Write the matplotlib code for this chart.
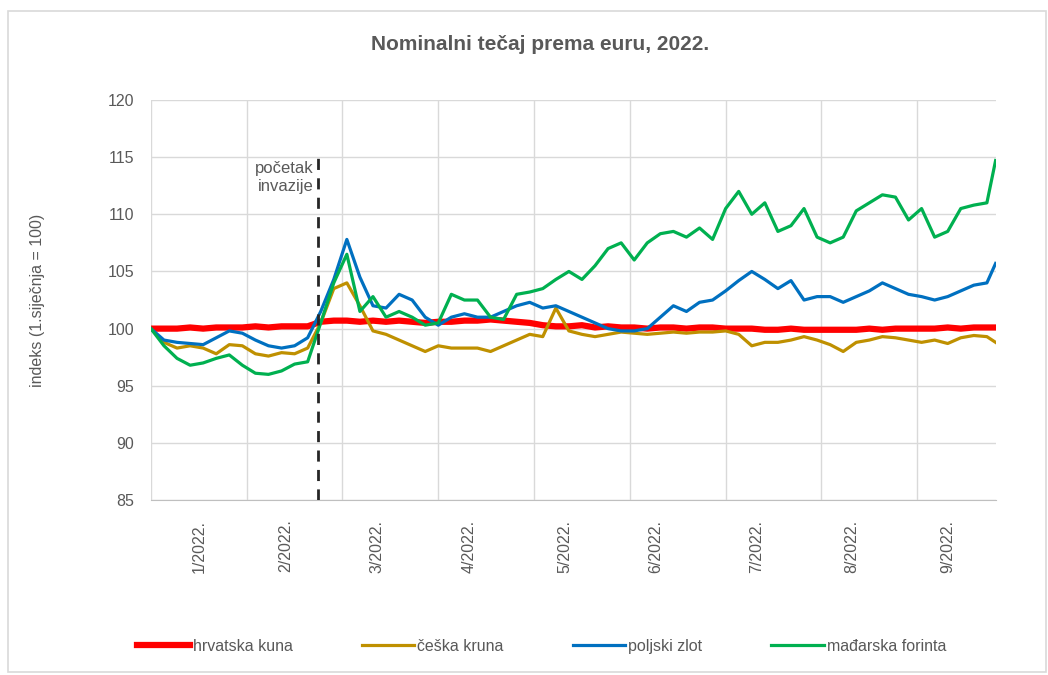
import numpy as np
import matplotlib.pyplot as plt
from matplotlib.patches import Rectangle

plt.rcParams['font.family'] = ['Liberation Sans', 'DejaVu Sans']

# business-day index (0 = 1. siječnja), values read roughly every 3rd day
idx = list(range(0, 193, 3)) + [194]

kuna = [100.0, 100.0, 100.0, 100.1, 100.0, 100.1, 100.1, 100.1, 100.2, 100.1, 100.2, 100.2, 100.2,
        100.6, 100.7, 100.7, 100.6, 100.7, 100.6, 100.7, 100.6, 100.5,
        100.6, 100.6, 100.7, 100.7, 100.8, 100.7, 100.6, 100.5, 100.3,
        100.2, 100.2, 100.3, 100.1, 100.2, 100.1, 100.1, 100.0, 100.1, 100.1, 100.0, 100.1, 100.1,
        100.0, 100.0, 100.0, 99.9, 99.9, 100.0, 99.9, 99.9, 99.9, 99.9, 99.9, 100.0, 99.9,
        100.0, 100.0, 100.0, 100.0, 100.1, 100.0, 100.1, 100.1, 100.1]

ceska = [100.0, 98.8, 98.3, 98.5, 98.3, 97.8, 98.6, 98.5, 97.8, 97.6, 97.9, 97.8, 98.3,
         100.5, 103.5, 104.0, 102.0, 99.8, 99.5, 99.0, 98.5, 98.0,
         98.5, 98.3, 98.3, 98.3, 98.0, 98.5, 99.0, 99.5, 99.3,
         101.8, 99.8, 99.5, 99.3, 99.5, 99.7, 99.6, 99.5, 99.6, 99.7, 99.6, 99.7, 99.7,
         99.8, 99.5, 98.5, 98.8, 98.8, 99.0, 99.3, 99.0, 98.6, 98.0, 98.8, 99.0, 99.3,
         99.2, 99.0, 98.8, 99.0, 98.7, 99.2, 99.4, 99.3, 98.8]

zlot = [100.0, 99.0, 98.8, 98.7, 98.6, 99.2, 99.8, 99.6, 99.0, 98.5, 98.3, 98.5, 99.2,
        101.5, 104.3, 107.8, 104.5, 102.0, 101.8, 103.0, 102.5, 101.0,
        100.3, 101.0, 101.3, 101.0, 101.0, 101.5, 102.0, 102.3, 101.8,
        102.0, 101.5, 101.0, 100.5, 100.0, 99.8, 99.8, 100.0, 101.0, 102.0, 101.5, 102.3, 102.5,
        103.3, 104.2, 105.0, 104.3, 103.5, 104.2, 102.5, 102.8, 102.8, 102.3, 102.8, 103.3, 104.0,
        103.5, 103.0, 102.8, 102.5, 102.8, 103.3, 103.8, 104.0, 105.7]

forinta = [100.0, 98.5, 97.4, 96.8, 97.0, 97.4, 97.7, 96.8, 96.1, 96.0, 96.3, 96.9, 97.1,
           100.5, 104.0, 106.5, 101.5, 102.8, 101.0, 101.5, 101.0, 100.3,
           100.5, 103.0, 102.5, 102.5, 101.0, 100.8, 103.0, 103.2, 103.5,
           104.3, 105.0, 104.3, 105.5, 107.0, 107.5, 106.0, 107.5, 108.3, 108.5, 108.0, 108.8, 107.8,
           110.5, 112.0, 110.0, 111.0, 108.5, 109.0, 110.5, 108.0, 107.5, 108.0, 110.3, 111.0, 111.7,
           111.5, 109.5, 110.5, 108.0, 108.5, 110.5, 110.8, 111.0, 114.7]

month_labels = ['1/2022.', '2/2022.', '3/2022.', '4/2022.', '5/2022.',
                '6/2022.', '7/2022.', '8/2022.', '9/2022.']
label_pos = [11, 31, 52, 73, 95, 116, 139, 161, 183]
invasion = 38.3

grey = '#595959'

fig = plt.figure(figsize=(10.48, 6.75), dpi=100)
fig.patches.append(Rectangle((0.008, 0.004), 0.99, 0.98, transform=fig.transFigure,
                             fill=False, edgecolor='#d9d9d9', linewidth=1.2))
ax = fig.add_axes([0.144, 0.259, 0.806, 0.593])

ax.plot(idx, kuna, color='#ff0000', lw=4.5, label='hrvatska kuna', zorder=3)
ax.plot(idx, ceska, color='#bf9000', lw=2.3, label='češka kruna', zorder=4)
ax.plot(idx, zlot, color='#0070c0', lw=2.3, label='poljski zlot', zorder=5)
ax.plot(idx, forinta, color='#00b050', lw=2.3, label='mađarska forinta', zorder=6)

ax.plot([invasion, invasion], [85, 115.3], color='#262626', lw=2, ls=(0, (4, 3)), zorder=7)
ax.text(invasion - 1.0, 113.2, 'početak\ninvazije', ha='right', va='center',
        fontsize=12, color=grey, linespacing=1.25)

ax.set_xlim(0, 194)
ax.set_ylim(85, 120)
ax.set_yticks(np.arange(85, 121, 5))
ax.set_xticks(np.arange(0, 195, 22), minor=False)
ax.set_xticklabels([])
ax.set_xticks(label_pos, minor=True)
ax.set_xticklabels(month_labels, minor=True, rotation=90, fontsize=11.5, color=grey)
ax.tick_params(axis='x', which='both', length=0)
ax.tick_params(axis='x', which='minor', pad=14)
ax.tick_params(axis='y', length=0, pad=12, labelsize=11.5, labelcolor=grey)
ax.grid(True, which='major', color='#d9d9d9', lw=1)
for s in ['top', 'right', 'left']:
    ax.spines[s].set_visible(False)
ax.spines['bottom'].set_color('#bfbfbf')
ax.set_ylabel('indeks (1.siječnja = 100)', fontsize=11.5, color=grey, labelpad=45)

fig.suptitle('Nominalni tečaj prema euru, 2022.', x=0.515, y=0.948, fontsize=15,
             fontweight='bold', color=grey)

fig.legend(loc='lower center', bbox_to_anchor=(0.517, 0.01), ncol=4, frameon=False,
           fontsize=11.5, labelcolor=grey, handlelength=3.3, columnspacing=4.3, handletextpad=0.2)

fig.savefig('out.png', dpi=100)
